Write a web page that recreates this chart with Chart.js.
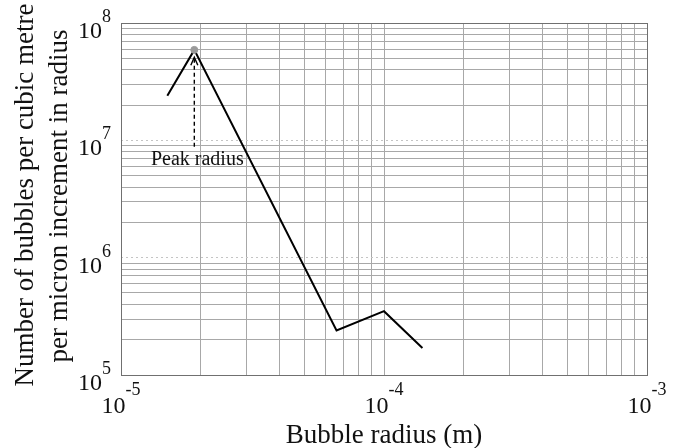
<!DOCTYPE html>
<html>
<head>
<meta charset="utf-8">
<script src="https://cdn.jsdelivr.net/npm/chart.js@4/dist/chart.umd.min.js"></script>
<style>
  html, body { margin: 0; padding: 0; background: #fff; }
  #wrap { width: 686px; height: 448px; }
</style>
</head>
<body>
<div id="wrap"><canvas id="myChart" width="686" height="448"></canvas></div>
<script>
// bubble size distribution
const radius = [1.5e-5, 1.9e-5, 6.6e-5, 1.0e-4, 1.4e-4];
const count = [2.4e7, 5.9e7, 2.4e5, 3.5e5, 1.7e5];

const xTickValues = [1e-5, 1e-4, 1e-3];
const xTickExps = ['-5', '-4', '-3'];
const yTickValues = [1e5, 1e6, 1e7, 1e8];
const yTickExps = ['5', '6', '7', '8'];

const peakLabel = 'Peak radius';
const arrowFrom = 8.8e6;
const arrowTo = 5.1e7;
const labelY = 6.2e6;

const serif = '"Liberation Serif", "Times New Roman", serif';
const baseFont = '24px ' + serif;
const expFont = '18px ' + serif;

// 1..9 x 10^n in every decade between two powers of ten
const logTicks = (lo, hi) => {
  const out = [];
  for (let e = lo; e < hi; e++) {
    for (let s = 1; s < 10; s++) out.push({ value: s * Math.pow(10, e), major: s === 1 });
  }
  out.push({ value: Math.pow(10, hi), major: true });
  return out;
};

const decorations = {
  id: 'decorations',
  afterDraw(chart) {
    const { ctx, chartArea: a, scales: { x, y } } = chart;
    ctx.save();

    // frame
    ctx.strokeStyle = '#707070';
    ctx.lineWidth = 1;
    ctx.strokeRect(a.left + 0.5, a.top + 0.5, a.right - a.left, a.bottom - a.top);

    ctx.fillStyle = '#111';
    ctx.textBaseline = 'alphabetic';
    // x tick labels
    xTickValues.forEach((v, i) => {
      ctx.font = baseFont;
      const w1 = ctx.measureText('10').width;
      ctx.font = expFont;
      const w2 = ctx.measureText(xTickExps[i]).width;
      const left = x.getPixelForValue(v) - (w1 + w2) / 2;
      ctx.textAlign = 'left';
      ctx.font = baseFont;
      ctx.fillText('10', left, a.bottom + 38);
      ctx.font = expFont;
      ctx.fillText(xTickExps[i], left + w1, a.bottom + 20);
    });

    // y tick labels
    yTickValues.forEach((v, i) => {
      ctx.font = expFont;
      const w2 = ctx.measureText(yTickExps[i]).width;
      ctx.font = baseFont;
      const w1 = ctx.measureText('10').width;
      const py = y.getPixelForValue(v);
      const right = a.left - 10;
      ctx.textAlign = 'left';
      ctx.fillText('10', right - w2 - w1, py + 15);
      ctx.font = expFont;
      ctx.fillText(yTickExps[i], right - w2, py - 1);
    });

    // axis titles
    ctx.font = '27px ' + serif;
    ctx.textAlign = 'center';
    ctx.fillText('Bubble radius (m)', (a.left + a.right) / 2, 443);
    ctx.save();
    ctx.translate(33, 195);
    ctx.rotate(-Math.PI / 2);
    ctx.fillText('Number of bubbles per cubic metre', 0, 0);
    ctx.restore();
    ctx.save();
    ctx.translate(67, 196);
    ctx.rotate(-Math.PI / 2);
    ctx.fillText('per micron increment in radius', 0, 0);
    ctx.restore();

    // peak annotation
    const ax = x.getPixelForValue(radius[1]);
    const y0 = y.getPixelForValue(arrowFrom);
    const y1 = y.getPixelForValue(arrowTo);
    ctx.strokeStyle = '#000';
    ctx.lineWidth = 1.4;
    ctx.setLineDash([4, 3]);
    ctx.beginPath();
    ctx.moveTo(ax, y0);
    ctx.lineTo(ax, y1 + 2);
    ctx.stroke();
    ctx.setLineDash([]);
    ctx.beginPath();
    ctx.moveTo(ax - 3.5, y1 + 8);
    ctx.lineTo(ax, y1);
    ctx.lineTo(ax + 3.5, y1 + 8);
    ctx.stroke();

    ctx.font = '20px ' + serif;
    ctx.fillStyle = '#111';
    ctx.textAlign = 'center';
    ctx.fillText(peakLabel, ax + 3, y.getPixelForValue(labelY));

    ctx.restore();
  }
};

new Chart('myChart', {
  type: 'scatter',
  data: {
    datasets: [{
      data: radius.map((r, i) => ({ x: r, y: count[i] })),
      showLine: true,
      borderColor: '#000',
      borderWidth: 2,
      pointRadius: radius.map((r, i) => (i === 1 ? 3.5 : 0)),
      pointBackgroundColor: '#9a9a9a',
      pointBorderColor: '#9a9a9a',
      pointBorderWidth: 1,
      tension: 0
    }]
  },
  options: {
    responsive: false,
    animation: false,
    events: [],
    layout: { padding: { left: 121, top: 23, right: 39, bottom: 73 } },
    plugins: { legend: { display: false }, tooltip: { enabled: false } },
    scales: {
      x: {
        type: 'logarithmic',
        min: 1e-5,
        max: 1e-3,
        afterBuildTicks: (scale) => { scale.ticks = logTicks(-5, -3); },
        ticks: { display: false },
        grid: { color: '#a8a8a8', lineWidth: 1, drawTicks: false },
        border: { display: false }
      },
      y: {
        type: 'logarithmic',
        min: 1e5,
        max: 1e8,
        afterBuildTicks: (scale) => { scale.ticks = logTicks(5, 8); },
        ticks: { display: false },
        grid: {
          color: (c) => (c.tick && c.tick.major ? '#c4c4c4' : '#a8a8a8'),
          lineWidth: 1,
          drawTicks: false
        },
        border: {
          display: false,
          dash: (c) => (c.tick && c.tick.major ? [2, 3] : [])
        }
      }
    }
  },
  plugins: [decorations]
});
</script>
</body>
</html>
